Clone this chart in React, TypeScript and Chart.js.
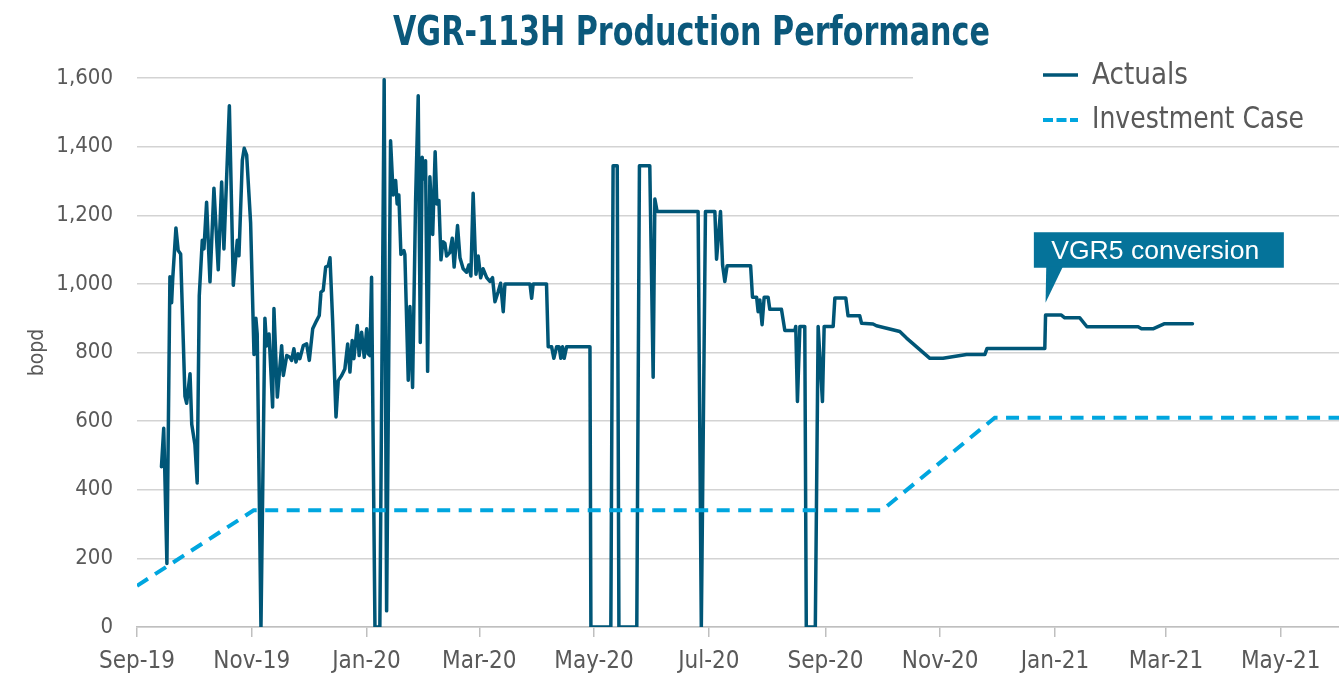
import { useEffect, useRef } from 'react';
import { Chart, registerables } from 'chart.js';

Chart.register(...registerables);

// ---------- data ----------
const chartTitle = 'VGR-113H Production Performance';
const yAxisTitle = 'bopd';
const seriesNames = ['Actuals', 'Investment Case'];

const originDate = '2019-09-01';
const axisEndDate = '2021-06-01';
const tickDates = [
  '2019-09-01', '2019-11-01', '2020-01-01', '2020-03-01', '2020-05-01', '2020-07-01',
  '2020-09-01', '2020-11-01', '2021-01-01', '2021-03-01', '2021-05-01',
];
const tickLabels = [
  'Sep-19', 'Nov-19', 'Jan-20', 'Mar-20', 'May-20', 'Jul-20',
  'Sep-20', 'Nov-20', 'Jan-21', 'Mar-21', 'May-21',
];
const yTicksMin = 0;
const yTicksMax = 1600;
const yTicksStep = 200;

// days since 1 Sep 2019
const actualDays = [
  13.0, 14.2, 14.7, 15.9, 17.5, 18.4, 19.0, 20.7, 21.9, 23.2, 25.5, 26.4, 28.2, 29.1, 30.8, 32.0,
  33.1, 34.7, 35.6, 37.0, 38.8, 40.9, 43.2, 45.0, 46.2, 49.1, 51.2, 53.3, 54.2, 56.0, 57.0, 58.3,
  60.4, 62.2, 63.2, 63.9, 65.9, 68.0, 68.9, 70.2, 72.1, 72.8, 74.6, 76.9, 77.8, 79.6, 81.3, 82.2,
  83.4, 84.5, 85.7, 86.6, 88.4, 90.2, 91.6, 93.4, 95.5, 96.9, 97.8, 99.0, 100.3, 101.7, 102.6, 104.0,
  105.8, 107.0, 108.8, 110.5, 112.0, 113.2, 114.4, 115.3, 117.1, 118.1, 119.4, 120.8, 122.1, 122.9, 123.8, 124.7,
  126.5, 129.1, 131.4, 132.7, 134.8, 136.2, 137.5, 138.3, 139.2, 140.3, 141.9, 142.4, 144.2, 145.1, 146.5, 148.1,
  149.5, 150.6, 151.6, 152.7, 153.4, 154.5, 155.7, 157.2, 158.5, 159.4, 160.5, 161.6, 162.6, 163.7, 164.6, 166.3,
  167.6, 168.6, 170.4, 171.7, 173.4, 175.2, 176.4, 177.5, 178.7, 180.2, 181.4, 182.7, 184.0, 185.9, 187.6, 189.0,
  190.3, 192.0, 193.3, 194.7, 195.6, 208.9, 209.8, 210.6, 217.7, 218.6, 220.4, 221.6, 223.1, 224.4, 225.3, 226.2,
  227.1, 228.4, 240.8, 241.3, 251.9, 253.1, 255.3, 256.2, 265.7, 267.1, 272.6, 274.4, 275.3, 276.5, 298.3, 300.0,
  302.2, 307.2, 308.1, 310.2, 311.3, 312.5, 313.7, 326.2, 327.2, 329.4, 330.2, 331.1, 332.3, 333.4, 335.5, 336.4,
  342.6, 344.4, 349.7, 350.2, 351.1, 352.4, 355.0, 355.8, 360.6, 362.1, 364.4, 365.3, 370.1, 371.0, 376.8, 378.0,
  384.2, 385.2, 391.3, 393.1, 405.5, 409.1, 421.5, 428.5, 441.0, 450.7, 451.9, 482.6, 483.0, 491.4, 493.2, 501.2,
  505.0, 532.2, 534.0, 540.1, 546.3, 561.1,
];
const actualBopd = [
  467, 579, 470, 185, 1021, 945, 1016, 1163, 1097, 1087, 672, 652, 738, 591, 531, 420,
  965, 1127, 1102, 1238, 1006, 1279, 1041, 1297, 1102, 1519, 996, 1127, 1082, 1360, 1395, 1375,
  1178, 794, 900, 854, 0, 900, 819, 854, 641, 928, 670, 820, 733, 791, 786, 777,
  811, 772, 796, 782, 820, 825, 777, 869, 893, 908, 976, 981, 1049, 1053, 1076, 893,
  612, 718, 733, 752, 825, 743, 835, 782, 879, 791, 859, 786, 869, 796, 791, 1019,
  0, 0, 1595, 47, 1417, 1259, 1301, 1233, 1259, 1086, 1097, 1086, 719, 934, 698, 1243,
  1548, 829, 1369, 1306, 1359, 745, 1312, 1144, 1385, 1233, 1243, 1070, 1123, 1118, 1081, 1091,
  1133, 1049, 1170, 1076, 1044, 1034, 1055, 1023, 1264, 1028, 1081, 1018, 1044, 1018, 1007, 1018,
  948, 977, 1002, 919, 1000, 1000, 958, 1000, 1000, 817, 817, 783, 817, 817, 783, 817,
  783, 817, 817, 0, 0, 1344, 1344, 0, 0, 1344, 1344, 728, 1247, 1211, 1211, 0,
  1211, 1211, 1072, 1211, 1055, 1007, 1053, 1053, 961, 961, 919, 953, 881, 961, 961, 926,
  926, 864, 864, 876, 657, 876, 876, 0, 0, 876, 657, 876, 876, 959, 959, 907,
  907, 885, 883, 878, 861, 842, 783, 783, 794, 794, 812, 812, 909, 909, 901, 901,
  875, 875, 869, 869, 884, 884,
];

const caseDates = ['2019-09-01', '2019-11-02', '2020-10-01', '2020-11-30', '2021-06-01'];
const caseBopd = [120, 340, 340, 610, 610];

const calloutText = 'VGR5 conversion';
const calloutDate = '2020-12-27';
const calloutBopd = 945;

// ---------- helpers ----------
const dayOf = (iso: string) =>
  (Date.parse(iso + 'T00:00:00Z') - Date.parse(originDate + 'T00:00:00Z')) / 86400000;

const NARROW = '"Liberation Sans Narrow", "Arial Narrow", "DejaVu Sans Condensed", sans-serif';
const REGULAR = '"Liberation Sans", Arial, "DejaVu Sans", sans-serif';
const DARK = '#005677';
const LIGHT = '#00a6df';
const GREY_TEXT = '#595959';

// draw text horizontally fitted to a target width (emulates a condensed face)
function fitText(ctx: CanvasRenderingContext2D, text: string, x: number, y: number, width: number) {
  const w = ctx.measureText(text).width;
  const s = width / w;
  ctx.save();
  ctx.translate(x, y);
  ctx.scale(s, 1);
  ctx.textAlign = 'left';
  ctx.fillText(text, 0, 0);
  ctx.restore();
}

const decorPlugin = {
  id: 'decor',
  beforeDatasetsDraw(chart: any) {
    const { ctx } = chart;
    const y = chart.scales.y.getPixelForValue(yTicksMax);
    ctx.save();
    ctx.fillStyle = '#ffffff';
    ctx.fillRect(913, y - 4, chart.width - 913, 8);
    ctx.restore();
  },
  afterDraw(chart: any) {
    const { ctx } = chart;
    const W = chart.width;
    ctx.save();
    ctx.textBaseline = 'alphabetic';
    // title
    ctx.fillStyle = '#0b587b';
    ctx.font = `bold 41px ${NARROW}`;
    fitText(ctx, chartTitle, 393, 45, 597);

    // legend
    ctx.font = `31px ${NARROW}`;
    ctx.fillStyle = GREY_TEXT;
    ctx.lineWidth = 3.5;
    ctx.strokeStyle = DARK;
    ctx.setLineDash([]);
    ctx.beginPath();
    ctx.moveTo(W - 296, 75);
    ctx.lineTo(W - 261, 75);
    ctx.stroke();
    fitText(ctx, seriesNames[0], W - 247, 84, 96);
    ctx.strokeStyle = LIGHT;
    ctx.lineWidth = 4;
    ctx.setLineDash([10, 3.5]);
    ctx.beginPath();
    ctx.moveTo(W - 296, 120);
    ctx.lineTo(W - 261, 120);
    ctx.stroke();
    ctx.setLineDash([]);
    fitText(ctx, seriesNames[1], W - 247, 128, 212);

    // callout
    const tx = chart.scales.x.getPixelForValue(dayOf(calloutDate));
    const ty = chart.scales.y.getPixelForValue(calloutBopd);
    const boxTop = ty - 70.5;
    const boxBottom = ty - 35;
    ctx.fillStyle = '#05739a';
    ctx.fillRect(tx - 11.7, boxTop, 250, boxBottom - boxTop);
    ctx.beginPath();
    ctx.moveTo(tx + 0.7, boxBottom - 1);
    ctx.lineTo(tx + 17.3, boxBottom - 1);
    ctx.lineTo(tx, ty);
    ctx.closePath();
    ctx.fill();
    ctx.fillStyle = '#ffffff';
    ctx.font = `26px ${REGULAR}`;
    fitText(ctx, calloutText, tx + 5.7, ty - 44, 208);
    ctx.restore();
  },
};

export default function App() {
  const canvasRef = useRef<HTMLCanvasElement | null>(null);

  useEffect(() => {
    const canvas = canvasRef.current;
    if (!canvas) return;
    const tickValues = tickDates.map(dayOf);
    const actualPoints = actualDays.map((d, i) => ({ x: d, y: actualBopd[i] }));
    const casePoints = caseDates.map((d, i) => ({ x: dayOf(d), y: caseBopd[i] }));

    const chart = new Chart(canvas, {
      type: 'line',
      data: {
        datasets: [
          {
            label: seriesNames[0],
            data: actualPoints,
            borderColor: DARK,
            backgroundColor: DARK,
            borderWidth: 3.5,
            pointRadius: 0,
            tension: 0,
            borderJoinStyle: 'round',
            borderCapStyle: 'round',
            order: 1,
          },
          {
            label: seriesNames[1],
            data: casePoints,
            borderColor: LIGHT,
            backgroundColor: LIGHT,
            borderWidth: 4,
            borderDash: [13, 8.5],
            pointRadius: 0,
            tension: 0,
            order: 0,
          },
        ],
      },
      options: {
        animation: false,
        responsive: true,
        maintainAspectRatio: false,
        layout: { padding: { top: 78, right: 0, left: 0, bottom: 0 } },
        plugins: {
          legend: { display: false },
          title: { display: false },
          tooltip: { enabled: false },
        },
        scales: {
          x: {
            type: 'linear',
            bounds: 'data',
            min: dayOf(originDate),
            max: dayOf(axisEndDate),
            afterBuildTicks: (scale: any) => {
              scale.ticks = tickValues.map((v) => ({ value: v }));
            },
            afterFit: (scale: any) => {
              scale.height = 54;
            },
            ticks: {
              autoSkip: false,
              maxRotation: 0,
              padding: 10,
              color: GREY_TEXT,
              font: { family: NARROW, size: 24 },
              callback: (value: any) => {
                const i = tickValues.indexOf(Number(value));
                return i >= 0 ? tickLabels[i] : '';
              },
            },
            grid: {
              drawOnChartArea: false,
              drawTicks: true,
              tickLength: 10,
              color: '#bfbfbf',
              lineWidth: 1.5,
            },
            border: { display: true, color: '#bfbfbf', width: 1.5 },
          },
          y: {
            min: yTicksMin,
            max: yTicksMax,
            afterFit: (scale: any) => {
              scale.width = 137;
            },
            ticks: {
              stepSize: yTicksStep,
              padding: 24,
              color: GREY_TEXT,
              font: { family: NARROW, size: 22 },
            },
            grid: { drawTicks: false, color: '#d3d3d3', lineWidth: 1.5 },
            border: { display: false },
            title: {
              display: true,
              text: yAxisTitle,
              color: GREY_TEXT,
              font: { family: NARROW, size: 21 },
              padding: { top: 25, bottom: 0 },
            },
          },
        },
      },
      plugins: [decorPlugin],
    } as any);

    return () => chart.destroy();
  }, []);

  return (
    <div style={{ position: 'fixed', left: 0, top: 0, width: 1339, height: 681, background: '#fff' }}>
      <canvas ref={canvasRef} />
    </div>
  );
}
